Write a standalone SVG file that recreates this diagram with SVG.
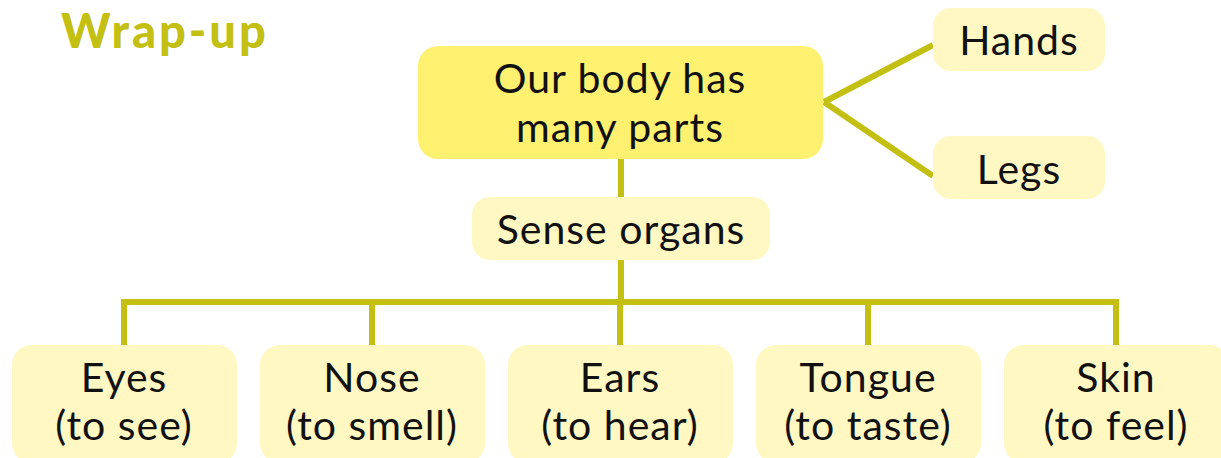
<svg xmlns="http://www.w3.org/2000/svg" width="1221" height="458" viewBox="0 0 1221 458">
<style>
.t{font-family:Lato,"Open Sans","Liberation Sans",sans-serif;font-size:41px;letter-spacing:1px;fill:#111;text-anchor:middle}
.lb{fill:#FFF8C2}
.c{stroke:#C3BF13;stroke-width:6;fill:none;stroke-linecap:butt}
</style>
<rect width="1221" height="458" fill="#fff"/>
<text x="61" y="48" style="font-family:Lato,'Liberation Sans',sans-serif;font-weight:900;font-size:47px;letter-spacing:3px;fill:#C3BF13">Wrap-up</text>
<g id="connectors">
<line class="c" x1="824" y1="102" x2="933" y2="45" stroke-width="5"/>
<line class="c" x1="824" y1="102" x2="933" y2="176" stroke-width="5"/>
<line class="c" x1="621" y1="158" x2="621" y2="198"/>
<line class="c" x1="621" y1="259" x2="621" y2="302"/>
<polyline class="c" points="124,346 124,302 1116,302 1116,346"/>
<line class="c" x1="372" y1="302" x2="372" y2="346"/>
<line class="c" x1="620" y1="302" x2="620" y2="346"/>
<line class="c" x1="868" y1="302" x2="868" y2="346"/>
</g>
<g id="main"><rect x="418" y="46" width="405" height="113" rx="20" fill="#FFF170"/><text class="t" x="620" y="93">Our body has</text><text class="t" x="620" y="142">many parts</text></g>
<g id="hands"><rect class="lb" x="933" y="8" width="172" height="63" rx="18"/><text class="t" x="1019" y="55">Hands</text></g>
<g id="legs"><rect class="lb" x="933" y="136" width="172" height="63" rx="18"/><text class="t" x="1019" y="184">Legs</text></g>
<g id="sense"><rect class="lb" x="472" y="197" width="298" height="63" rx="18"/><text class="t" x="621" y="244">Sense organs</text></g>
<g id="eyes"><rect class="lb" x="12" y="345" width="225" height="118" rx="20"/><text class="t" x="124" y="392">Eyes</text><text class="t" x="124" y="440">(to see)</text></g>
<g id="nose"><rect class="lb" x="260" y="345" width="225" height="118" rx="20"/><text class="t" x="372" y="392">Nose</text><text class="t" x="372" y="440">(to smell)</text></g>
<g id="ears"><rect class="lb" x="508" y="345" width="225" height="118" rx="20"/><text class="t" x="620" y="392">Ears</text><text class="t" x="620" y="440">(to hear)</text></g>
<g id="tongue"><rect class="lb" x="756" y="345" width="225" height="118" rx="20"/><text class="t" x="868" y="392">Tongue</text><text class="t" x="868" y="440">(to taste)</text></g>
<g id="skin"><rect class="lb" x="1004" y="345" width="225" height="118" rx="20"/><text class="t" x="1116" y="392">Skin</text><text class="t" x="1116" y="440">(to feel)</text></g>
</svg>
